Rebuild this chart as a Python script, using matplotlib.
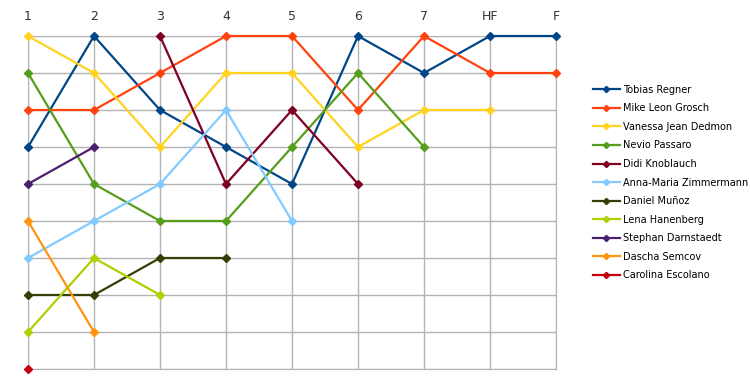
import numpy as np
import matplotlib.pyplot as plt

rounds = ["1", "2", "3", "4", "5", "6", "7", "HF", "F"]
nan = np.nan

names = [
    "Tobias Regner",
    "Mike Leon Grosch",
    "Vanessa Jean Dedmon",
    "Nevio Passaro",
    "Didi Knoblauch",
    "Anna-Maria Zimmermann",
    "Daniel Muñoz",
    "Lena Hanenberg",
    "Stephan Darnstaedt",
    "Dascha Semcov",
    "Carolina Escolano",
]

# ranking per round (1 = top), nan = not in the show
tobias = [4, 1, 3, 4, 5, 1, 2, 1, 1]
mike = [3, 3, 2, 1, 1, 3, 1, 2, 2]
vanessa = [1, 2, 4, 2, 2, 4, 3, 3, nan]
nevio = [2, 5, 6, 6, 4, 2, 4, nan, nan]
didi = [nan, nan, 1, 5, 3, 5, nan, nan, nan]
anna = [7, 6, 5, 3, 6, nan, nan, nan, nan]
daniel = [8, 8, 7, 7, nan, nan, nan, nan, nan]
lena = [9, 7, 8, nan, nan, nan, nan, nan, nan]
stephan = [5, 4, nan, nan, nan, nan, nan, nan, nan]
dascha = [6, 9, nan, nan, nan, nan, nan, nan, nan]
carolina = [10, nan, nan, nan, nan, nan, nan, nan, nan]

colors = ["#004586", "#ff420e", "#ffd320", "#579d1c", "#7e0021", "#83caff",
          "#314004", "#aecf00", "#4b1f6f", "#ff950e", "#c5000b"]


def main():
    series = [tobias, mike, vanessa, nevio, didi, anna, daniel, lena,
              stephan, dascha, carolina]

    fig = plt.figure(figsize=(7.5, 3.9), dpi=100)
    ax = fig.add_axes([28 / 750, 21 / 390, 528 / 750, 333 / 390])

    x = np.arange(len(rounds))
    for name, vals, col in zip(names, series, colors):
        ax.plot(x, vals, color=col, lw=1.6, marker="D", markersize=4.5,
                label=name, clip_on=False, zorder=3)

    ax.set_xlim(0, len(rounds) - 1)
    ax.set_ylim(10, 1)
    ax.set_xticks(x)
    ax.set_xticklabels(rounds, fontsize=9, color="#333333")
    ax.set_yticks(np.arange(1, 11))
    ax.set_yticklabels([])
    ax.xaxis.tick_top()
    ax.tick_params(length=0, pad=9)
    ax.grid(True, color="#b3b3b3", lw=1)
    for s in ax.spines.values():
        s.set_color("#b3b3b3")

    ax.legend(loc="center left", bbox_to_anchor=(1.062, 0.56), frameon=False,
              fontsize=7, handlelength=2.8, handletextpad=0.3,
              labelspacing=0.88, markerscale=0.7, borderaxespad=0)

    plt.savefig("out.png")
    plt.close()


if __name__ == "__main__":
    main()
